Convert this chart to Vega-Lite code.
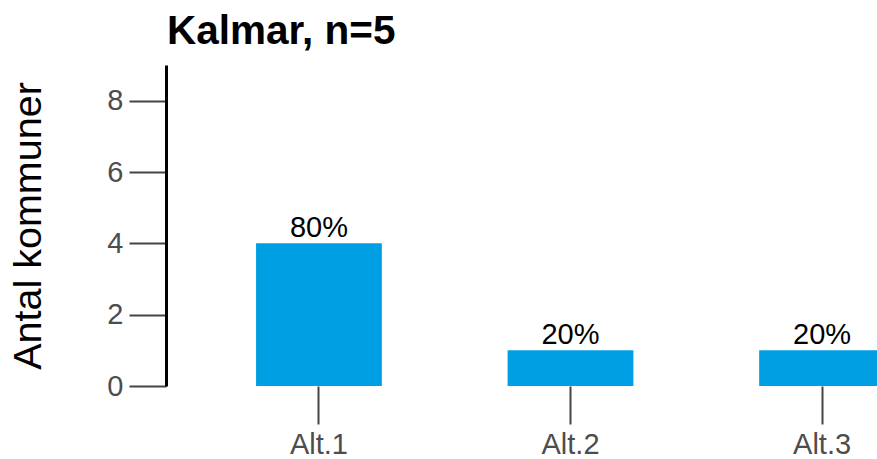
{
  "$schema": "https://vega.github.io/schema/vega-lite/v6.json",
  "width": 711,
  "height": 321,
  "autosize": {"type": "none"},
  "padding": {"left": 166, "top": 65, "right": 0, "bottom": 73},
  "config": {"view": {"stroke": null}, "font": "Liberation Sans"},
  "title": {
    "text": "Kalmar, n=5",
    "anchor": "start",
    "frame": "group",
    "fontSize": 40.5,
    "fontWeight": "bold",
    "color": "black",
    "font": "Liberation Sans",
    "baseline": "alphabetic",
    "offset": -19,
    "dx": 1
  },
  "data": {
    "values": [
      {"alt": "Alt.1", "antal": 4, "andel": "80%"},
      {"alt": "Alt.2", "antal": 1, "andel": "20%"},
      {"alt": "Alt.3", "antal": 1, "andel": "20%"}
    ]
  },
  "encoding": {
    "x": {
      "field": "alt",
      "type": "nominal",
      "sort": null,
      "scale": {"range": [0, 809], "paddingInner": 0.5, "paddingOuter": 0.358},
      "axis": {
        "title": null,
        "domain": false,
        "ticks": true,
        "tickSize": 38,
        "tickWidth": 2,
        "tickColor": "#444444",
        "labelFontSize": 29,
        "labelColor": "#4d4d4d",
        "labelPadding": 6,
        "labelAngle": 0,
        "grid": false
      }
    },
    "y": {
      "field": "antal",
      "type": "quantitative",
      "scale": {"domain": [0, 9], "nice": false},
      "axis": {
        "values": [0, 2, 4, 6, 8],
        "grid": false,
        "domainColor": "black",
        "domainWidth": 3,
        "tickSize": 37,
        "tickWidth": 2,
        "tickColor": "#444444",
        "labelFontSize": 29,
        "labelColor": "#4d4d4d",
        "labelPadding": 6,
        "title": "Antal kommuner",
        "titleFontSize": 39.5,
        "titleFontWeight": "normal",
        "titleColor": "black",
        "titlePadding": 58
      }
    }
  },
  "layer": [
    {"mark": {"type": "bar", "color": "#009fe3", "clip": true}},
    {
      "mark": {"type": "text", "baseline": "alphabetic", "dy": -6, "fontSize": 29, "color": "black"},
      "encoding": {"text": {"field": "andel", "type": "nominal"}}
    }
  ]
}
